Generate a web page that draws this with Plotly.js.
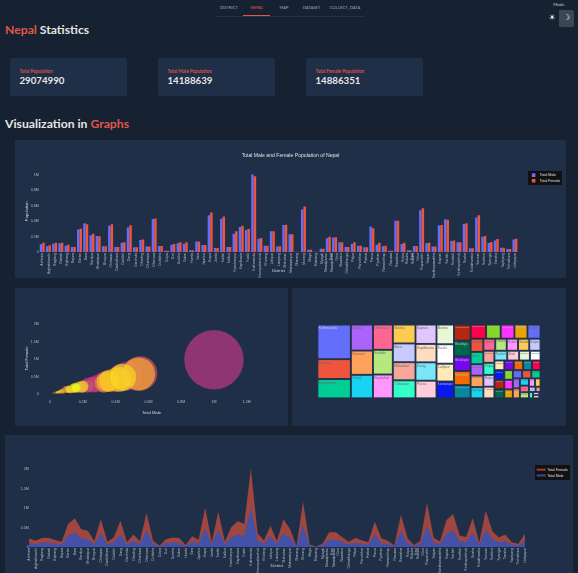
<!DOCTYPE html>
<html><head><meta charset="utf-8">
<script src="https://cdn.plot.ly/plotly-3.0.1.min.js"></script>
<style>
html,body{margin:0;padding:0;width:578px;height:573px;overflow:hidden;background:#162131;font-family:Lato,sans-serif;color:#e0e0e0}
.abs{position:absolute;white-space:nowrap}
.panel{position:absolute;background:#1f2f47;overflow:hidden;border-radius:1px}
.native{position:absolute;left:0;top:0;transform-origin:0 0;filter:blur(1px)}
.card{position:absolute;background:#1f2f47;top:58px;width:117px;height:38px;border-radius:2px}
.card .l{position:absolute;left:9.5px;top:9.5px;font-size:4.6px;color:#e0574c;font-weight:600}
.card .v{position:absolute;left:9.5px;top:16.3px;font-size:9.7px;font-weight:700;color:#e6e6e6}
.red{color:#e0574c}
.nav{font-size:4px;top:5px;transform:translateX(-50%);color:#a9b0ba;letter-spacing:.1px}
h1{position:absolute;margin:0;left:5px;font-size:12.2px;font-weight:700;white-space:nowrap;color:#e6e6e6}
</style></head><body>
<div class="abs nav" style="left:229px">DISTRICT</div>
<div class="abs nav" style="left:257px;color:#e0574c">NEPAL</div>
<div class="abs nav" style="left:284px">MAP</div>
<div class="abs nav" style="left:311.5px">DATASET</div>
<div class="abs nav" style="left:345px">COLLECT_DATA</div>
<div class="abs" style="left:216px;top:15.5px;width:149px;height:.4px;background:#27323f"></div>
<div class="abs" style="left:243px;top:15px;width:27px;height:.8px;background:#e0574c"></div>
<div class="abs" style="left:559px;top:1.5px;font-size:4.4px;transform:translateX(-50%);color:#c9ced6">Mode</div>
<div class="abs" style="left:545px;top:10px;width:14px;height:16.5px;background:#18212f;border-radius:2px 0 0 2px;font:8px 'DejaVu Sans';text-align:center;line-height:16px;color:#fff">☀</div>
<div class="abs" style="left:559px;top:10px;width:15px;height:16.5px;background:#3c4654;border-radius:0 2px 2px 0;font:8px 'DejaVu Sans';text-align:center;line-height:16px;color:#fff">☽</div>
<h1 style="top:22.2px"><span class="red">Nepal</span> Statistics</h1>
<div class="card" style="left:10px"><div class="l">Total Population</div><div class="v" id="cardTotal"></div></div>
<div class="card" style="left:158px"><div class="l">Total Male Population</div><div class="v" id="cardMale"></div></div>
<div class="card" style="left:306px"><div class="l">Total Female Population</div><div class="v" id="cardFemale"></div></div>
<h1 style="top:115.7px">Visualization in <span class="red">Graphs</span></h1>
<div class="panel" style="left:15px;top:140px;width:551px;height:138px"><div class="native" id="bar"></div></div>
<div class="panel" style="left:15px;top:288px;width:273px;height:138px"><div class="native" id="bubble"></div></div>
<div class="panel" style="left:292px;top:288px;width:274px;height:138px"><div class="native" id="tree"></div></div>
<div class="panel" style="left:5px;top:435px;width:568px;height:138px"><div class="native" id="area"></div></div>
<script>
const totalPopulation = 29074990;
const totalMalePopulation = 14188639;
const totalFemalePopulation = 14886351;

const districts = ["Achham","Arghakhanchi","Baglung","Baitadi","Bajhang","Bajura","Banke","Bara","Bardiya","Bhaktapur","Bhojpur","Chitawan","Dadeldhura","Dailekh","Dang","Darchula","Dhading","Dhankuta","Dhanusa","Dolakha","Dolpa","Doti","Gorkha","Gulmi","Humla","Ilam","Jajarkot","Jhapa","Jumla","Kailali","Kalikot","Kanchanpur","Kapilbastu","Kaski","Kathmandu","Kavrepalanchok","Khotang","Lalitpur","Lamjung","Mahottari","Makawanpur","Manang","Morang","Mugu","Mustang","Myagdi","Nawalparasi<br>East","Nawalparasi<br>West","Nuwakot","Okhaldhunga","Palpa","Panchthar","Parbat","Parsa","Pyuthan","Ramechhap","Rasuwa","Rautahat","Rolpa","Rukum<br>East","Rukum<br>West","Rupandehi","Salyan","Sankhuwasabha","Saptari","Sarlahi","Sindhuli","Sindhupalchok","Siraha","Solukhumbu","Sunsari","Surkhet","Syangja","Tanahu","Taplejung","Terhathum","Udayapur"];

const maleValues = [100000,73000,108000,112000,82000,65000,290000,370000,215000,207000,73000,340000,65000,120000,315000,60000,155000,70000,427000,78000,17000,95000,112000,108000,22000,134000,90000,474000,52000,430000,65000,237000,323000,285000,1000000,172000,82000,267000,70000,350000,228000,3000,550000,30000,4000,43000,177000,186000,125000,65000,103000,82000,60000,328000,95000,73000,17000,405000,103000,22000,78000,540000,112000,70000,345000,422000,142000,125000,362000,47000,444000,198000,116000,147000,56000,39000,160000];

const femaleValues = [120000,86000,120000,120000,95000,65000,300000,358000,237000,203000,73000,358000,65000,125000,345000,60000,160000,70000,431000,78000,17000,103000,125000,125000,22000,134000,90000,510000,52000,460000,65000,267000,340000,297000,978000,180000,82000,267000,73000,353000,228000,3000,586000,30000,4000,43000,197000,190000,125000,65000,125000,82000,60000,306000,120000,82000,17000,405000,120000,22000,78000,565000,120000,70000,350000,418000,147000,125000,370000,47000,474000,207000,130000,168000,56000,39000,172000];

const seriesColors = ['#636efa','#ef553b','#00cc96','#ab63fa','#ffa15a','#19d3f3','#ff6692','#b6e880','#ff97ff','#fecb52'];
const plasma = [[0,'#0d0887'],[0.1111,'#46039f'],[0.2222,'#7201a8'],[0.3333,'#9c179e'],[0.4444,'#bd3786'],[0.5556,'#d8576b'],[0.6667,'#ed7953'],[0.7778,'#fb9f3a'],[0.8889,'#fdca26'],[1,'#f0f921']];
const textColor = '#d0d5dc';
const tickLabelColor = '#b4bac4';
const legendStyle = {bgcolor:'#111111', font:{color:'#e0e0e0', size:12}};
const baseFont = {family:'"Liberation Sans", Arial, sans-serif', color:textColor, size:12};
const s = 578/1920;
const cfg = {displayModeBar:false, staticPlot:true};
const labels = districts.map(d => d);
const plain = districts.map(d => d.replace('<br>',' '));
const totals = maleValues.map((m,i) => m + femaleValues[i]);

// Treemap label shade follows the size rank of each tile: tiles with the darkened colours get light text.
const order = totals.map((t,i) => i).sort((a,b) => totals[b]-totals[a]);
const treeText = plain.map((d,i) => {
  const r = order.indexOf(i);
  if (r === 0) return '#c8cbe8';
  return (r % 30) >= 20 ? '#b8bcc4' : '#6a6a6a';
});

document.getElementById('cardTotal').textContent = totalPopulation;
document.getElementById('cardMale').textContent = totalMalePopulation;
document.getElementById('cardFemale').textContent = totalFemalePopulation;

function place(id, w, h){
  const el = document.getElementById(id);
  el.style.width = w/s + 'px'; el.style.height = h/s + 'px';
  el.style.transform = 'scale(' + s + ')';
  return {width:w/s, height:h/s};
}
const common = {paper_bgcolor:'rgba(0,0,0,0)', plot_bgcolor:'rgba(0,0,0,0)', font:baseFont, colorway:seriesColors, treemapcolorway:seriesColors, extendtreemapcolors:true};
const catAxis = {tickangle:-90, tickmode:'array', tickvals:labels, ticktext:labels, showgrid:false, zeroline:false, tickfont:{size:11.5,color:tickLabelColor}, title:{text:'District',font:{size:14}}};

Plotly.newPlot('bar', [
  {type:'bar', name:'Total Male', x:labels, y:maleValues, marker:{color:'#636efa'}},
  {type:'bar', name:'Total Female', x:labels, y:femaleValues, marker:{color:'#ef553b'}}
], Object.assign({}, common, place('bar',551,138), {
  margin:{l:80,r:159,t:102,b:86}, barmode:'group', bargap:0.2,
  title:{text:'Total Male and Female Population of Nepal', font:{size:17,color:'#e0e0e0'}, x:0.5, xanchor:'center', y:0.905},
  xaxis:Object.assign({}, catAxis, {range:[-0.5,76.5]}),
  yaxis:{range:[0,1050000], dtick:200000, showgrid:false, zeroline:false, tickfont:{color:tickLabelColor}, title:{text:'Population',font:{size:14}}},
  legend:Object.assign({x:1.02,y:1,xanchor:'left',yanchor:'top'}, legendStyle)
}), cfg);

Plotly.newPlot('bubble', [{
  type:'scatter', mode:'markers', x:maleValues, y:femaleValues, text:plain,
  marker:{size:totals, sizemode:'diameter', sizeref:2000000/200, color:districts.map((d,i)=>i), colorscale:plasma, cmin:0, cmax:76, opacity:0.7, line:{width:1,color:'rgba(60,60,60,0.7)'}, showscale:false}
}], Object.assign({}, common, place('bubble',273,138), {
  margin:{l:80,r:80,t:100,b:90},
  xaxis:{range:[-67000,1305000], dtick:200000, showgrid:false, zeroline:false, tickfont:{color:tickLabelColor}, title:{text:'Total Male',font:{size:14}}},
  yaxis:{range:[-143000,2170000], dtick:500000, showgrid:false, zeroline:false, tickfont:{color:tickLabelColor}, title:{text:'Total Female',font:{size:14}}},
  showlegend:false
}), cfg);

Plotly.newPlot('tree', [{
  type:'treemap', labels:plain, parents:plain.map(()=>''), values:totals,
  textinfo:'label', textposition:'top left', pathbar:{visible:false},
  marker:{line:{width:3,color:'#1f2f47'}, pad:{t:0,l:0,r:0,b:0}},
  textfont:{size:12, color:treeText}
}], Object.assign({}, common, place('tree',274,138), {
  margin:{l:86,r:86,t:123,b:93}
}), cfg);

Plotly.newPlot('area', [
  {type:'scatter', mode:'lines', stackgroup:'one', name:'Total Male', x:labels, y:maleValues, line:{color:'#636efa',width:0.5}, fillcolor:'rgba(99,110,250,0.55)'},
  {type:'scatter', mode:'lines', stackgroup:'one', name:'Total Female', x:labels, y:femaleValues, line:{color:'#ef553b',width:0.5}, fillcolor:'rgba(239,85,59,0.62)'}
], Object.assign({}, common, place('area',568,138), {
  margin:{l:80,r:159,t:100,b:86},
  xaxis:Object.assign({}, catAxis, {range:[0,76]}),
  yaxis:{range:[0,2100000], dtick:500000, showgrid:false, zeroline:false, tickfont:{color:tickLabelColor}},
  legend:Object.assign({x:1.02,y:1,xanchor:'left',yanchor:'top'}, legendStyle)
}), cfg);
</script>
</body></html>
